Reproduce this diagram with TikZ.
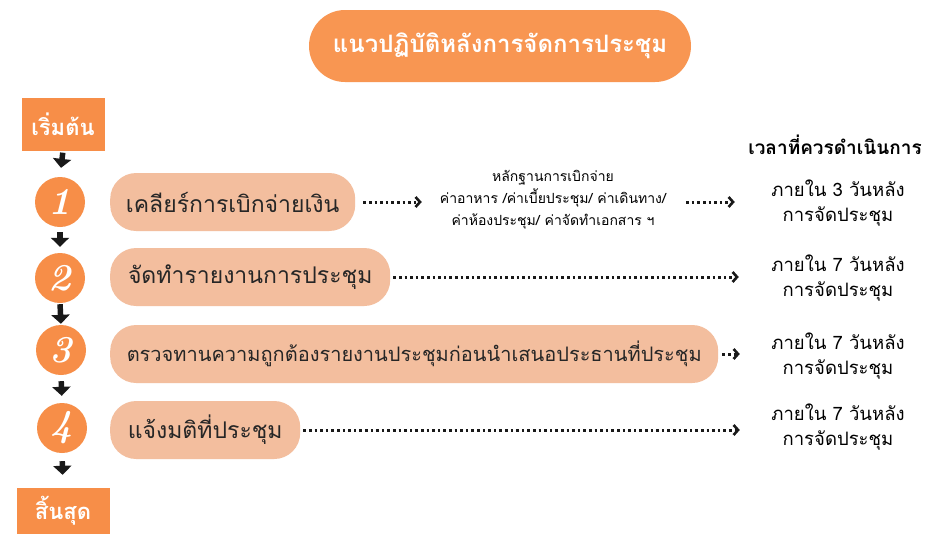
\documentclass[tikz,border=0pt]{standalone}
\usepackage{fontspec}
\usetikzlibrary{arrows.meta}
\newfontfamily\thai[Script=Thai]{Loma}
\definecolor{orangeA}{RGB}{247,142,72}
\definecolor{titleC}{RGB}{248,150,82}
\definecolor{peach}{RGB}{243,190,158}
\tikzset{
  px/.style={x=1pt,y=-1pt},
  stepbox/.style={fill=peach, rounded corners=26pt, minimum height=58pt, inner xsep=14pt, anchor=west,
    font=\thai\fontsize{23}{27}\selectfont, text=black!85},
  numc/.style={circle, fill=orangeA, minimum size=50pt, inner sep=0pt, text=white,
    font=\bfseries\itshape\fontsize{38}{40}\selectfont},
  endbox/.style={fill=orangeA, text=white, font=\thai\bfseries\fontsize{22}{26}\selectfont, inner sep=0pt},
  blockarr/.style={line width=5.5pt, -{Triangle[width=18pt,length=9pt]}, black!90},
  dotarr/.style={line width=3pt, dash pattern=on 2.6pt off 3pt, black!90,
    -{Straight Barb[length=4.5pt,width=10pt,line width=2.6pt]}},
  timetxt/.style={font=\thai\fontsize{18.5}{25}\selectfont, align=center, text width=150pt, inner sep=0pt}
}
\begin{document}
\begin{tikzpicture}[px]
\useasboundingbox[fill=white] (0,0) rectangle (928,536);
% title
\node[fill=titleC, rounded corners=36pt, minimum width=382pt, minimum height=72pt,
      text=white, font=\thai\bfseries\fontsize{24}{30}\selectfont] (title) at (500,46) {แนวปฏิบัติหลังการจัดการประชุม};
% start / end
\node[endbox, minimum width=83pt, minimum height=53pt] (start) at (63,124) {เริ่มต้น};
\node[endbox, minimum width=93pt, minimum height=46pt] (end) at (63,511) {สิ้นสุด};
% step boxes
\node[stepbox, minimum width=245pt] (s1) at (110,202) {เคลียร์การเบิกจ่ายเงิน};
\node[stepbox, minimum width=280pt] (s2) at (110,277) {จัดทำรายงานการประชุม};
\node[stepbox, minimum width=608pt, text width=580pt, align=center, font=\thai\fontsize{20}{24}\selectfont] (s3) at (110,354) {ตรวจทานความถูกต้องรายงานประชุมก่อนนำเสนอประธานที่ประชุม};
\node[stepbox, minimum width=190pt] (s4) at (110,430) {แจ้งมติที่ประชุม};
% number circles
\node[numc] (c1) at (60,202) {1};
\node[numc] (c2) at (60,278) {2};
\node[numc] (c3) at (61,350) {3};
\node[numc] (c4) at (62,428) {4};
% block arrows
\draw[blockarr, shorten <=2pt, shorten >=9pt] (start.south) -- (c1.north);
\draw[blockarr, shorten <=5pt, shorten >=6pt] (c1.south) -- (c2.north);
\draw[blockarr, shorten <=1pt, shorten >=1pt] (c2.south) -- (c3.north);
\draw[blockarr, shorten <=6pt, shorten >=7pt] (c3.south) -- (c4.north);
\draw[blockarr, shorten <=8pt, shorten >=13pt] (c4.south) -- (end.north);
% header
\node[font=\thai\bfseries\fontsize{19}{24}\selectfont] (head) at (835,145) {เวลาที่ควรดำเนินการ};
% time texts
\node[timetxt] (t1) at (838,203) {ภายใน 3 วันหลัง\\การจัดประชุม};
\node[timetxt] (t2) at (838,278) {ภายใน 7 วันหลัง\\การจัดประชุม};
\node[timetxt] (t3) at (838,356) {ภายใน 7 วันหลัง\\การจัดประชุม};
\node[timetxt] (t4) at (838,427) {ภายใน 7 วันหลัง\\การจัดประชุม};
% middle evidence text
\node[font=\thai\fontsize{14}{22}\selectfont, align=center, inner sep=0pt] (mid) at (553,200)
  {หลักฐานการเบิกจ่าย\\ค่าอาหาร /ค่าเบี้ยประชุม/ ค่าเดินทาง/\\ค่าห้องประชุม/ ค่าจัดทำเอกสาร ฯ};
% dotted arrows
\draw[dotarr, shorten <=8pt, shorten >=18pt] (s1.east) -- (s1.east -| mid.west);
\draw[dotarr, shorten <=20pt, shorten >=28pt] (s1.east -| mid.east) -- (s1.east -| t1.west);
\draw[dotarr, shorten <=3pt, shorten >=24pt] (s2.east) -- (s2.east -| t2.west);
\draw[dotarr, shorten <=4pt, shorten >=23pt] (s3.east) -- (s3.east -| t3.west);
\draw[dotarr, shorten <=3pt, shorten >=23pt] (s4.east) -- (s4.east -| t4.west);
\end{tikzpicture}
\end{document}
